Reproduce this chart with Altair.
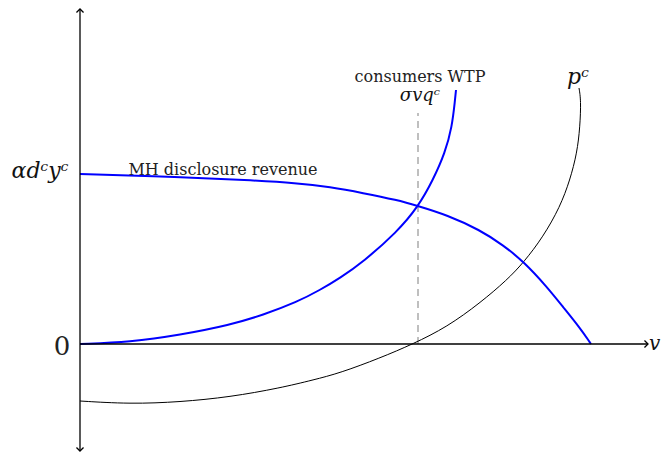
import altair as alt
import pandas as pd

# --- data (schematic units: origin at axes crossing) ---
wtp_x = [0, 50, 100, 150, 183, 217, 240, 260, 283, 317, 338, 353, 365, 372, 375, 376]
wtp_y = [0, 2, 9, 19, 29, 42, 54, 66, 82, 112, 137, 164, 191, 217, 244, 254]

rev_x = [0, 100, 167, 217, 250, 283, 317, 338, 367, 400, 423, 444, 467, 483, 500, 511]
rev_y = [170, 167, 164, 161, 157, 151, 144, 138, 129, 114, 99, 82, 57, 37, 16, 0]

pc_x = [0, 50, 100, 150, 200, 233, 260, 300, 333, 367, 400, 427, 444, 463, 480, 490, 497, 500, 501, 499]
pc_y = [-57, -60, -58, -53, -44, -36, -29, -14, 0, 17, 41, 64, 82, 107, 137, 164, 191, 217, 244, 256]

dash_x = [338, 338]
dash_y = [0, 231]

roman_labels = ["MH disclosure revenue", "consumers WTP", "0"]
roman_x = [143, 340, -18]
roman_y = [169, 262, -11]
roman_size = [16, 16, 26]

math_labels = ["αdᶜyᶜ", "σvqᶜ", "pᶜ"]
math_x = [-40, 340, 498]
math_y = [166, 243, 260]
math_size = [22, 18, 22]

v_label = ["v"]
v_x = [569]
v_y = [-6]

W, H = 654, 444
XDOM = [-72, -72 + W]
YDOM = [336 - H, 336]

xs = alt.Scale(domain=XDOM, nice=False, zero=False)
ys = alt.Scale(domain=YDOM, nice=False, zero=False)
X = lambda f: alt.X(f, type="quantitative", scale=xs, axis=None)
Y = lambda f: alt.Y(f, type="quantitative", scale=ys, axis=None)


def curve(xv, yv, color, width, interp, dash=None):
    df = pd.DataFrame({"x": xv, "y": yv, "i": list(range(len(xv)))})
    kw = dict(color=color, strokeWidth=width, interpolate=interp, clip=False)
    if dash:
        kw["strokeDash"] = dash
    return alt.Chart(df).mark_line(**kw).encode(x=X("x"), y=Y("y"), order="i:Q")


# axes
axes_df = pd.DataFrame({"x": [0, 0], "x2": [568, 0], "y": [0, -107], "y2": [0, 335]})
axes = alt.Chart(axes_df).mark_rule(color="black", strokeWidth=1.3).encode(
    x=X("x"), x2="x2", y=Y("y"), y2="y2"
)

arrow_df = pd.DataFrame({"x": [568, 0, 0], "y": [0, 335, -107], "a": [0, 270, 90]})
arrows = alt.Chart(arrow_df).mark_point(
    shape="M-1,-1L0,0L-1,1", size=50, filled=False, color="black", strokeWidth=1.3, opacity=1
).encode(x=X("x"), y=Y("y"), angle=alt.Angle("a:Q", scale=None))

dash = curve(dash_x, dash_y, "#aaaaaa", 1.5, "linear", dash=[7, 5])
pc = curve(pc_x, pc_y, "black", 1, "basis")
rev = curve(rev_x, rev_y, "#0000ff", 2, "basis")
wtp = curve(wtp_x, wtp_y, "#0000ff", 2, "basis")

roman_df = pd.DataFrame({"t": roman_labels, "x": roman_x, "y": roman_y, "s": roman_size})
roman = alt.Chart(roman_df).mark_text(
    font="DejaVu Serif", color="#222222", align="center", baseline="alphabetic"
).encode(x=X("x"), y=Y("y"), text="t:N", size=alt.Size("s:Q", scale=None))

math_df = pd.DataFrame({"t": math_labels, "x": math_x, "y": math_y, "s": math_size})
math = alt.Chart(math_df).mark_text(
    font="DejaVu Serif", fontStyle="italic", color="#111111", align="center", baseline="alphabetic"
).encode(x=X("x"), y=Y("y"), text="t:N", size=alt.Size("s:Q", scale=None))

v_df = pd.DataFrame({"t": v_label, "x": v_x, "y": v_y})
vtxt = alt.Chart(v_df).mark_text(
    font="DejaVu Serif", fontStyle="italic", color="#111111", align="left",
    baseline="alphabetic", fontSize=20
).encode(x=X("x"), y=Y("y"), text="t:N")

chart = alt.layer(dash, pc, rev, wtp, axes, arrows, roman, math, vtxt).properties(
    width=W, height=H, padding=0, autosize=alt.AutoSizeParams(type="none")
).configure_view(stroke=None)

chart.save("out.html", embed_options={"renderer": "svg", "actions": False})
